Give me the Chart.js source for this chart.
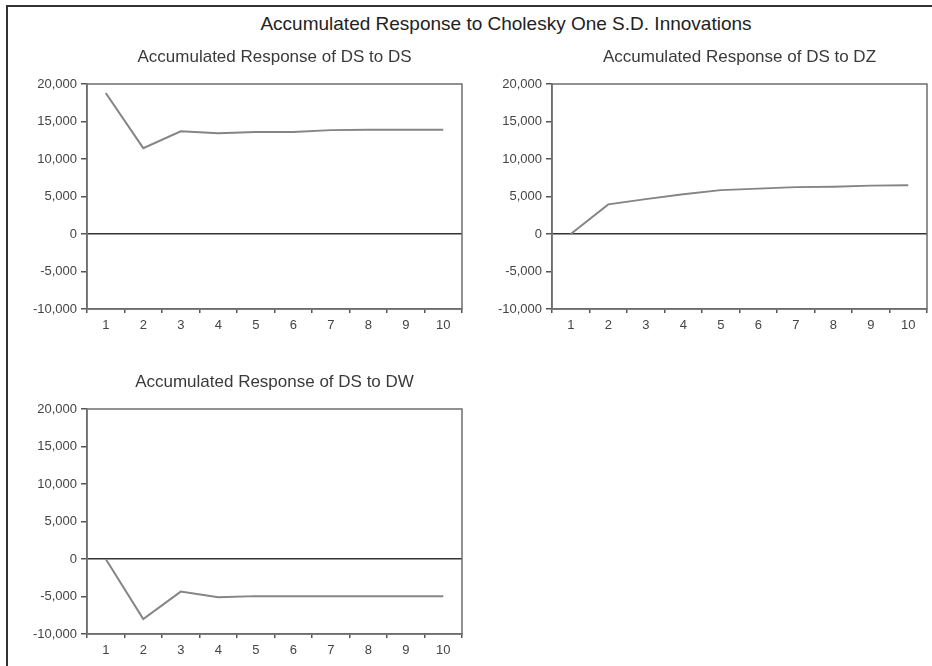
<!DOCTYPE html>
<html>
<head>
<meta charset="utf-8">
<script src="https://cdn.jsdelivr.net/npm/chart.js@4.4.0/dist/chart.umd.min.js"></script>
<style>
  body { margin: 0; background: #fff; width: 932px; height: 666px; position: relative; overflow: hidden; }
  .frame { position: absolute; left: 6px; top: 5px; width: 940px; height: 700px; border-left: 2px solid #333; border-top: 2px solid #333; }
  .main-title { position: absolute; left: 206px; width: 600px; top: 13px; text-align: center;
    font: 19px "Liberation Sans", Arial, sans-serif; color: #222; }
  .panel { position: absolute; }
</style>
</head>
<body>
<div class="frame"></div>
<div class="main-title">Accumulated Response to Cholesky One S.D. Innovations</div>
<div class="panel" style="left:10px;top:40px;width:470px;height:300px"><canvas id="c1"></canvas></div>
<div class="panel" style="left:475px;top:40px;width:457px;height:300px"><canvas id="c2"></canvas></div>
<div class="panel" style="left:10px;top:365px;width:470px;height:300px"><canvas id="c3"></canvas></div>
<script>
  // periods and accumulated responses
  const periods = ["1", "2", "3", "4", "5", "6", "7", "8", "9", "10"];
  const dsToDs = [18800, 11450, 13700, 13450, 13600, 13600, 13850, 13900, 13900, 13900];
  const dsToDz = [0, 3950, 4650, 5300, 5850, 6050, 6250, 6300, 6450, 6500];
  const dsToDw = [0, -8000, -4350, -5100, -4950, -4950, -4950, -4950, -4950, -4950];
  const yMin = -10000, yMax = 20000, yStep = 5000;

  const fontFam = '"Liberation Sans", Arial, sans-serif';

  // box around the plot area
  const boxPlugin = {
    id: "box",
    afterDraw(chart) {
      const a = chart.chartArea, c = chart.ctx;
      c.save();
      c.strokeStyle = "#6e6e6e";
      c.lineWidth = 1.5;
      c.strokeRect(a.left, a.top, a.right - a.left, a.bottom - a.top);
      c.restore();
    }
  };

  function makePanel(id, title, values, padRight) {
    return new Chart(document.getElementById(id), {
      type: "line",
      data: {
        labels: periods,
        datasets: [{
          data: values,
          borderColor: "#858585",
          borderWidth: 2,
          pointRadius: 0,
          tension: 0,
          fill: false
        }]
      },
      options: {
        responsive: true,
        maintainAspectRatio: false,
        animation: false,
        layout: { padding: { left: 0, right: padRight, top: 0, bottom: 0 } },
        plugins: {
          legend: { display: false },
          tooltip: { enabled: false },
          title: {
            display: true,
            text: title,
            fullSize: false,
            color: "#3a3a3a",
            font: { family: fontFam, size: 17, weight: "normal" },
            padding: { top: 6.8, bottom: 16.8 }
          }
        },
        scales: {
          x: {
            type: "category",
            offset: true,
            afterFit(s) { s.height = 31; },
            grid: { offset: true, drawOnChartArea: false, drawTicks: true, tickLength: 4, tickColor: "#555", lineWidth: 1.5 },
            border: { color: "#6e6e6e", width: 1.5 },
            ticks: { color: "#444", padding: 5, font: { family: fontFam, size: 13 } }
          },
          y: {
            min: yMin,
            max: yMax,
            afterFit(s) { s.width = 77; },
            grid: {
              drawTicks: true,
              tickLength: 6,
              tickColor: "#555",
              color: (ctx) => (ctx.tick && ctx.tick.value === 0 ? "#333" : "rgba(0,0,0,0)"),
              lineWidth: 1.5
            },
            border: { color: "#6e6e6e", width: 1.5 },
            ticks: { stepSize: yStep, color: "#444", padding: 4, font: { family: fontFam, size: 13 } }
          }
        }
      },
      plugins: [boxPlugin]
    });
  }

  makePanel("c1", "Accumulated Response of DS to DS", dsToDs, 18);
  makePanel("c2", "Accumulated Response of DS to DZ", dsToDz, 5);
  makePanel("c3", "Accumulated Response of DS to DW", dsToDw, 18);
</script>
</body>
</html>
